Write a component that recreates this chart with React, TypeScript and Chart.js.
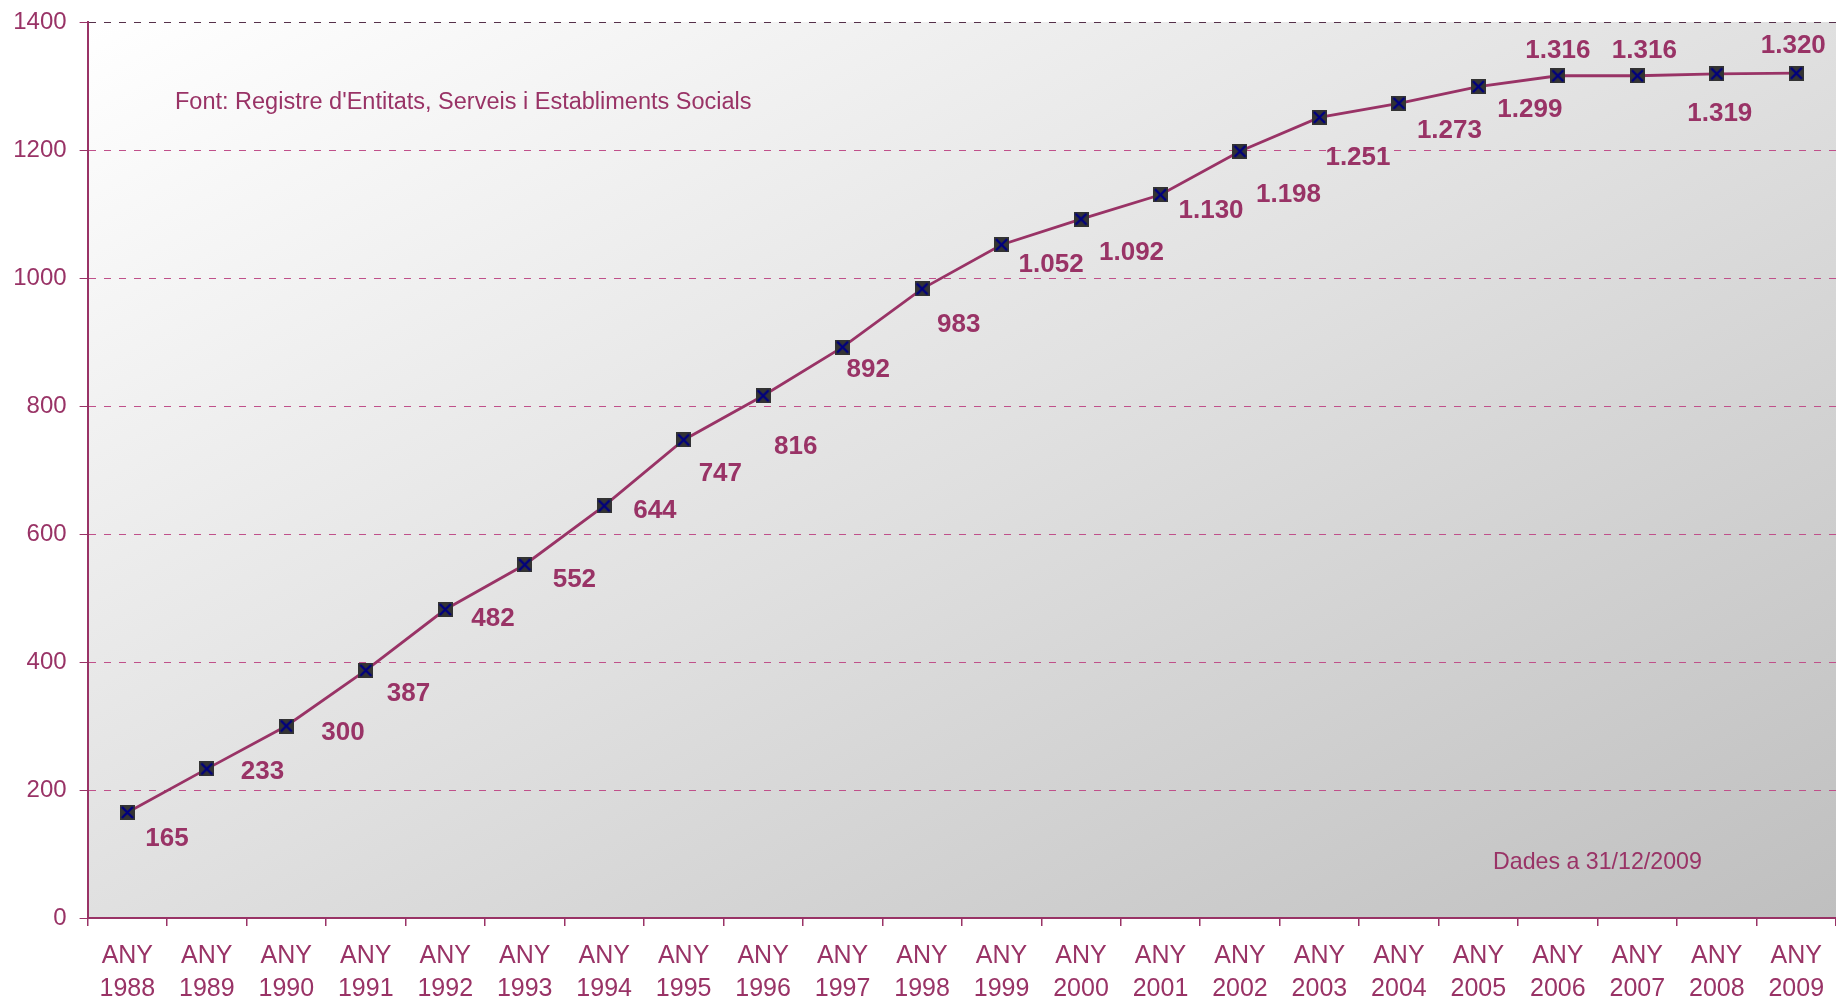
import React, { useEffect, useRef } from 'react';
import { Chart, registerables } from 'chart.js';

Chart.register(...registerables);

const YEARS = ['1988', '1989', '1990', '1991', '1992', '1993', '1994', '1995', '1996', '1997', '1998', '1999', '2000', '2001', '2002', '2003', '2004', '2005', '2006', '2007', '2008', '2009'];
const CATEGORIES = YEARS.map((y) => ['ANY', y]);
const VALUES = [165, 233, 300, 387, 482, 552, 644, 747, 816, 892, 983, 1052, 1092, 1130, 1198, 1251, 1273, 1299, 1316, 1316, 1319, 1320];
const VALUE_LABELS = ['165', '233', '300', '387', '482', '552', '644', '747', '816', '892', '983', '1.052', '1.092', '1.130', '1.198', '1.251', '1.273', '1.299', '1.316', '1.316', '1.319', '1.320'];
const Y_MIN = 0;
const Y_MAX = 1400;
const Y_STEP = 200;
const SOURCE_NOTE = "Font: Registre d'Entitats, Serveis i Establiments Socials";
const DATE_NOTE = 'Dades a 31/12/2009';

// label placement relative to each marker: [align, dx, dy(center of digits)]
const LABEL_PLACEMENT: [CanvasTextAlign, number, number][] = [
  ['left', 18, 24], ['left', 34, 1], ['left', 35, 5], ['left', 21, 21], ['left', 26, 7],
  ['left', 28, 13], ['left', 29, 3], ['left', 15, 32], ['left', 11, 49], ['left', 4, 21],
  ['left', 15, 34], ['left', 17, 18], ['left', 18, 32], ['left', 18, 14], ['left', 16, 41],
  ['left', 6, 38], ['left', 18, 25], ['left', 19, 21], ['center', 0, -27], ['center', 7, -27],
  ['center', 3, 38], ['center', -3, -30],
];

const PLUM = '#993366';
const FONT = "'Liberation Sans', Arial, sans-serif";

function makeMarker(): HTMLCanvasElement {
  const c = document.createElement('canvas');
  c.width = 15;
  c.height = 15;
  const g = c.getContext('2d')!;
  g.fillStyle = '#333333';
  g.fillRect(0, 0, 15, 15);
  g.strokeStyle = '#000080';
  g.lineWidth = 2.4;
  g.beginPath();
  g.moveTo(2, 2);
  g.lineTo(13, 13);
  g.moveTo(13, 2);
  g.lineTo(2, 13);
  g.stroke();
  return c;
}

const backgroundPlugin = {
  id: 'bgGradient',
  beforeDraw(chart: any) {
    const { ctx, chartArea } = chart;
    const { left, top, right, bottom } = chartArea;
    const W = right - left;
    const H = bottom - top;
    const s = (2 * W * H) / (W * W + H * H);
    const grad = ctx.createLinearGradient(left, top, left + s * H, top + s * W);
    grad.addColorStop(0, '#ffffff');
    grad.addColorStop(0.5, '#e0e0e0');
    grad.addColorStop(1, '#bfbfbf');
    ctx.save();
    ctx.fillStyle = grad;
    ctx.fillRect(left, top, W, H);
    ctx.restore();
  },
};

const labelsPlugin = {
  id: 'valueLabels',
  afterDatasetsDraw(chart: any) {
    const { ctx } = chart;
    const meta = chart.getDatasetMeta(0);
    ctx.save();
    ctx.fillStyle = PLUM;
    ctx.textBaseline = 'alphabetic';
    ctx.font = `bold 26px ${FONT}`;
    meta.data.forEach((pt: any, i: number) => {
      const [align, dx, dy] = LABEL_PLACEMENT[i];
      ctx.textAlign = align;
      ctx.fillText(VALUE_LABELS[i], pt.x + dx, pt.y + dy + 9.3);
    });
    ctx.textAlign = 'left';
    ctx.font = `23.5px ${FONT}`;
    ctx.fillText(SOURCE_NOTE, 175, 108.5);
    ctx.font = `23.2px ${FONT}`;
    ctx.fillText(DATE_NOTE, 1493, 868.5);
    ctx.restore();
  },
};

export default function App() {
  const canvasRef = useRef<HTMLCanvasElement | null>(null);

  useEffect(() => {
    const canvas = canvasRef.current;
    if (!canvas) return;
    const marker = makeMarker();
    const chart = new Chart(canvas, {
      type: 'line',
      data: {
        labels: CATEGORIES,
        datasets: [
          {
            data: VALUES,
            borderColor: PLUM,
            borderWidth: 2.8,
            tension: 0,
            fill: false,
            clip: false,
            pointStyle: marker as any,
            pointRadius: 8,
            pointHoverRadius: 8,
          },
        ],
      },
      options: {
        animation: false,
        responsive: false,
        devicePixelRatio: 1,
        events: [],
        layout: { autoPadding: false, padding: { top: 22, left: 0, right: 0, bottom: 0 } },
        plugins: {
          legend: { display: false },
          tooltip: { enabled: false },
          title: { display: false },
        },
        scales: {
          x: {
            type: 'category',
            offset: true,
            grid: {
              offset: true,
              drawOnChartArea: false,
              drawTicks: true,
              tickLength: 8,
              color: PLUM,
              tickColor: PLUM,
              lineWidth: 1.5,
            },
            border: { display: true, color: PLUM, width: 2 },
            ticks: {
              color: PLUM,
              padding: 14,
              maxRotation: 0,
              autoSkip: false,
              font: { family: FONT, size: 25, lineHeight: 1.32 },
            },
            afterFit(scale: any) {
              scale.height = 82;
              scale.paddingLeft = 0;
              scale.paddingRight = 0;
            },
          },
          y: {
            min: Y_MIN,
            max: Y_MAX,
            ticks: {
              stepSize: Y_STEP,
              color: PLUM,
              padding: 13,
              font: { family: FONT, size: 24 },
              callback: (v: any) => String(v),
            },
            grid: {
              drawTicks: true,
              tickLength: 8,
              color: (c: any) => (c.tick && c.tick.value === Y_MAX ? '#55304a' : '#c0508a'),
              tickColor: PLUM,
              tickBorderDash: [],
              lineWidth: 1,
            },
            border: { display: true, color: PLUM, width: 2, dash: [7, 8] },
            afterFit(scale: any) {
              scale.width = 87.6;
              scale.paddingTop = 0;
              scale.paddingBottom = 0;
            },
          },
        },
      },
      plugins: [backgroundPlugin, labelsPlugin],
    });
    return () => chart.destroy();
  }, []);

  return (
    <div style={{ position: 'fixed', left: 0, top: 0, width: 1836, height: 1000, background: '#ffffff' }}>
      <canvas ref={canvasRef} width={1836} height={1000} style={{ display: 'block' }} />
    </div>
  );
}
